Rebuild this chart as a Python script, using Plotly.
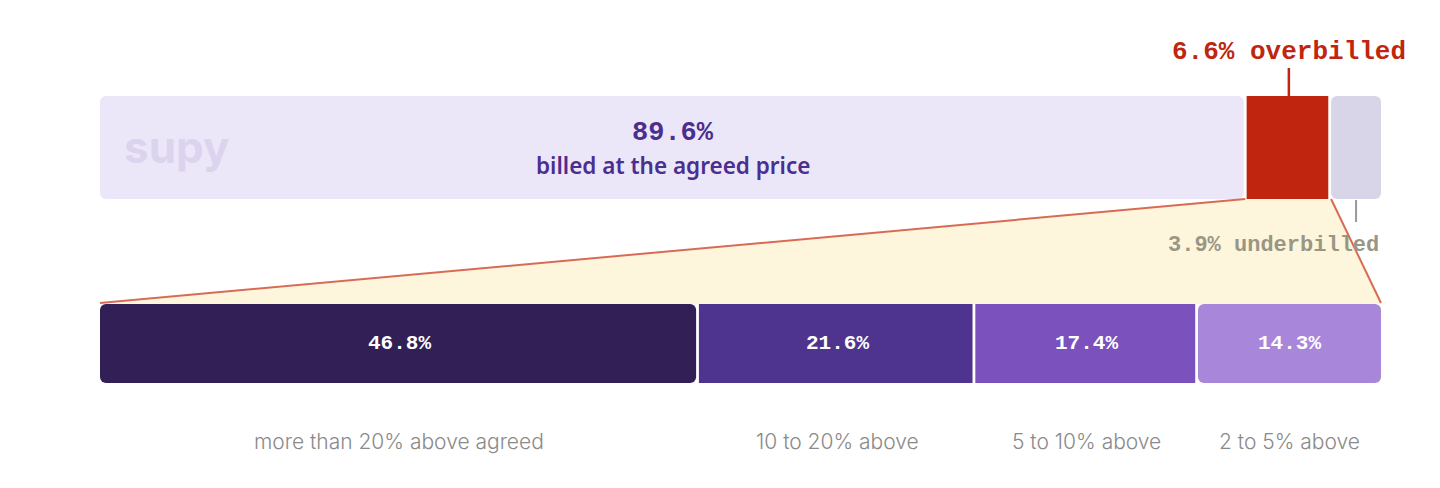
import plotly.graph_objects as go

# ---------------- data ----------------
top_labels = ["billed at the agreed price", "overbilled", "underbilled"]
top_values = [89.6, 6.6, 3.9]

over_labels = ["more than 20% above agreed", "10 to 20% above", "5 to 10% above", "2 to 5% above"]
over_values = [46.8, 21.6, 17.4, 14.3]

# ---------------- style ----------------
top_colors = ["#ECE7F8", "#C0260F", "#D8D5E8"]
over_colors = ["#321F55", "#4F348F", "#7B52BD", "#A886D9"]
MONO = "Courier New, Liberation Mono, monospace"
SANS = "Noto Sans, Open Sans, sans-serif"

OFF = 8  # page body margin
W, H = 1440 - OFF, 488 - OFF
LEFT_PX, RIGHT_PX = 100 - OFF, 1381 - OFF
total = sum(top_values)
ppu = (RIGHT_PX - LEFT_PX) / total           # pixels per unit
xr = [-LEFT_PX / ppu, (W - LEFT_PX) / ppu]
GAP = 2.8 / ppu


def py(v):
    return v - OFF


TOP_Y0, TOP_Y1 = py(96), py(199)
BOT_Y0, BOT_Y1 = py(304), py(383)
RAD = 6

fig = go.Figure()


def cum(vals):
    out, s = [], 0.0
    for v in vals:
        out.append(s)
        s += v
    return out


top_start = cum(top_values)
over_start = cum(over_values)
over_scale = total / sum(over_values)

# zoom polygon (overbilled share expanded)
red_x0 = top_start[1]
red_x1 = top_start[1] + top_values[1]
bot_x0 = 0
bot_x1 = sum(over_values) * over_scale
fig.add_trace(go.Scatter(
    x=[red_x0, red_x1, bot_x1, bot_x0, red_x0],
    y=[TOP_Y1, TOP_Y1, BOT_Y0, BOT_Y0, TOP_Y1],
    fill="toself", fillcolor="#FDF5DC", mode="none", hoverinfo="skip"))
for xa, xb in [(red_x0 - GAP / 2, bot_x0), (red_x1, bot_x1)]:
    fig.add_trace(go.Scatter(x=[xa, xb], y=[TOP_Y1, BOT_Y0 - 1],
                             mode="lines", line=dict(color="#D96B55", width=2), hoverinfo="skip"))


def seg(start, val, yc, h, color, n, i):
    s = start
    e = start + val - (GAP if i < n - 1 else 0)
    if i == 0:
        fig.add_trace(go.Bar(orientation="h", y=[yc], base=[e], x=[-(e - s)], width=[h],
                             marker=dict(color=color, cornerradius=RAD, line=dict(width=0)),
                             hoverinfo="skip"))
    else:
        fig.add_trace(go.Bar(orientation="h", y=[yc], base=[s], x=[e - s], width=[h],
                             marker=dict(color=color, cornerradius=(RAD if i == n - 1 else 0),
                                         line=dict(width=0)),
                             hoverinfo="skip"))


ty = (TOP_Y0 + TOP_Y1) / 2
for i, v in enumerate(top_values):
    seg(top_start[i], v, ty, TOP_Y1 - TOP_Y0, top_colors[i], len(top_values), i)

by = (BOT_Y0 + BOT_Y1) / 2
for i, v in enumerate(over_values):
    seg(over_start[i] * over_scale, v * over_scale, by, BOT_Y1 - BOT_Y0, over_colors[i], len(over_values), i)

# connector ticks
red_mid = top_start[1] + top_values[1] / 2
gray_mid = top_start[2] + top_values[2] / 2
fig.add_trace(go.Scatter(x=[red_mid, red_mid], y=[py(68), TOP_Y0], mode="lines",
                         line=dict(color="#C0260F", width=2.5), hoverinfo="skip"))
fig.add_trace(go.Scatter(x=[gray_mid, gray_mid], y=[TOP_Y1 + 1, py(222)], mode="lines",
                         line=dict(color="#999999", width=2), hoverinfo="skip"))

ann = []
# logo
ann.append(dict(x=top_start[0], y=ty - 1, text="<b>supy</b>", xanchor="left", yanchor="middle",
                xshift=22, showarrow=False,
                font=dict(family="Inter, Lato, sans-serif", size=44, color="#DCD3EE")))
# top main labels
agreed_mid = top_start[0] + top_values[0] / 2
ann.append(dict(x=agreed_mid, y=py(133), text=f"<b>{top_values[0]}%</b>", showarrow=False,
                font=dict(family=MONO, size=27, color="#4B2E8F")))
ann.append(dict(x=agreed_mid, y=py(165), text=top_labels[0], showarrow=False,
                font=dict(family=SANS, size=22.5, color="#4B2E8F", weight=600)))
ann.append(dict(x=red_mid, y=py(52), text=f"<b>{top_values[1]}% {top_labels[1]}</b>", showarrow=False,
                font=dict(family=MONO, size=26, color="#C0260F")))
ann.append(dict(x=total, y=py(245), text=f"<b>{top_values[2]}% {top_labels[2]}</b>", showarrow=False,
                xanchor="right", font=dict(family=MONO, size=22, color="#9A9684")))

for i, v in enumerate(over_values):
    xc = (over_start[i] + v / 2) * over_scale
    ann.append(dict(x=xc, y=by, text=f"<b>{v}%</b>", showarrow=False,
                    font=dict(family=MONO, size=21, color="#FFFFFF")))
    ann.append(dict(x=xc, y=py(441), text=over_labels[i], showarrow=False,
                    font=dict(family="Inter, Roboto, sans-serif", size=21, color="#8A8A8A", weight=300)))

fig.update_layout(
    width=W, height=H, margin=dict(l=0, r=0, t=0, b=0),
    paper_bgcolor="white", plot_bgcolor="white",
    barmode="overlay", showlegend=False, annotations=ann,
    xaxis=dict(range=xr, visible=False, fixedrange=True),
    yaxis=dict(range=[H, 0], visible=False, fixedrange=True),
)

fig.write_html("out.html")
